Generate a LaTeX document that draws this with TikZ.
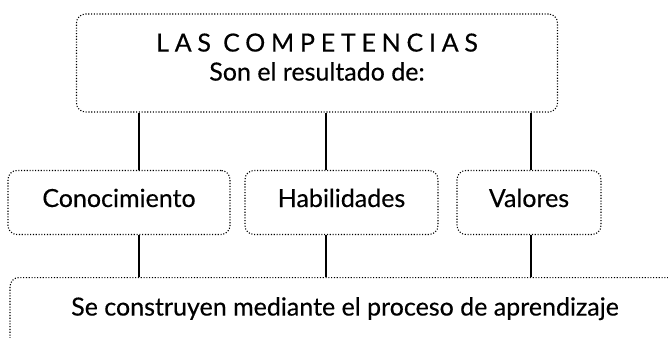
\documentclass[tikz,border=0pt]{standalone}
\usepackage{fontspec}
\setmainfont{Lato}[FakeBold=0.35]
\usetikzlibrary{positioning}
\tikzset{
    every node/.style={
        font=\fontsize{25}{24}\selectfont
    },
    box/.style={
        shape=rectangle,
        draw,
        line width=1.1pt,
        dash pattern=on 1.1pt off 1.7pt,
        rounded corners=9pt,
        inner sep=0pt,
        align=center
    },
    item/.style={box, minimum height=64pt, text height=18pt, text depth=9pt},
    link/.style={line width=1.6pt}
}
\begin{document}
\begin{tikzpicture}[x=1pt,y=-1pt]
		\useasboundingbox (0,0) rectangle (668,337);
		\clip (0,0) rectangle (668,337);
		\node (comp) at (317,63) [box, minimum width=481pt, minimum height=98pt, text depth=12pt]
			{{\addfontfeatures{LetterSpace=23}LAS COMPETENCIAS}\\[5pt] Son el resultado de:};
		\node (con) at (119,202.5) [item, minimum width=222pt] {Conocimiento};
		\node (hab) at (341.5,202.5) [item, minimum width=193pt] {Habilidades};
		\node (val) at (529,202.5) [item, minimum width=144pt] {Valores};
		\node (apr) at (345,277) [box, anchor=north, minimum width=670pt, text height=38pt, text depth=40pt]
			{Se construyen mediante el proceso de aprendizaje};
		% Connectors
		\coordinate (c1) at (139,0);
		\coordinate (c2) at (326,0);
		\coordinate (c3) at (531,0);
		\draw [link] (comp.south -| c1) -- (con.north -| c1);
		\draw [link] (comp.south -| c2) -- (hab.north -| c2);
		\draw [link] (comp.south -| c3) -- (val.north -| c3);
		\draw [link] (con.south -| c1) -- (apr.north -| c1);
		\draw [link] (hab.south -| c2) -- (apr.north -| c2);
		\draw [link] (val.south -| c3) -- (apr.north -| c3);
	\end{tikzpicture}
\end{document}
